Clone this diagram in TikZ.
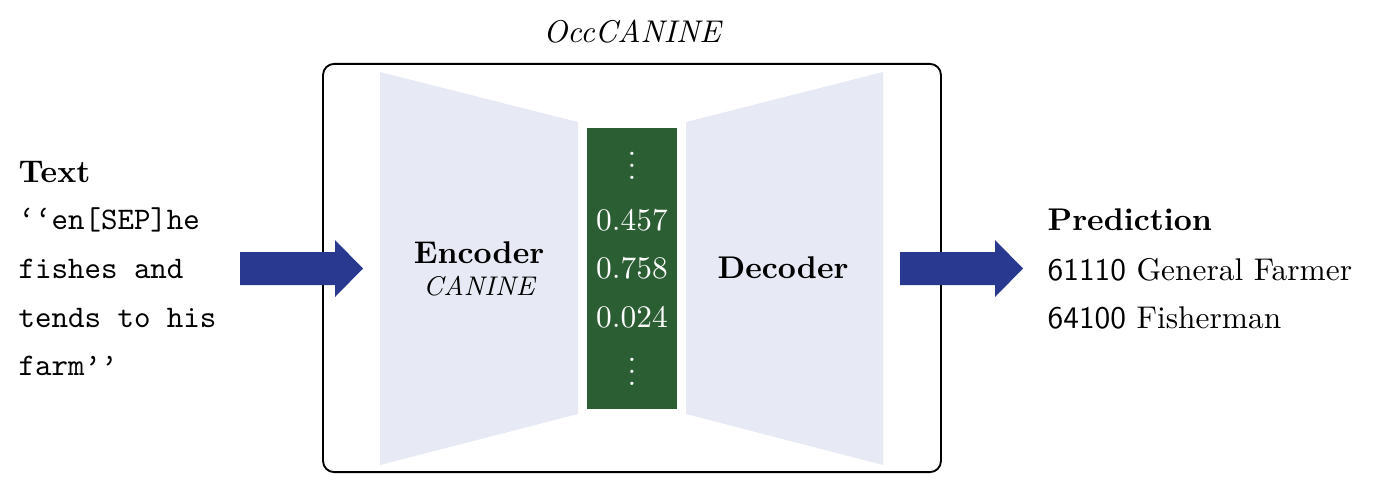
\documentclass[tikz,border=0pt]{standalone}
\usepackage{fontspec}
\definecolor{lav}{RGB}{231,234,244}
\definecolor{dgreen}{RGB}{44,94,52}
\definecolor{dblue}{RGB}{41,57,143}
\newcommand\myvdots{\vbox{\baselineskip3.8pt\lineskiplimit0pt\hbox{.}\hbox{.}\hbox{.}}}
\tikzset{
  txt/.style={anchor=base west, inner sep=0pt},
  ctxt/.style={anchor=base, inner sep=0pt},
  num/.style={anchor=base, inner sep=0pt, text=white},
  blockarrow/.style={fill=dblue},
  halfnet/.style={fill=lav}
}
\begin{document}
\begin{tikzpicture}[x=0.3185pt,y=-0.3185pt]
\useasboundingbox (0,0) rectangle (1373,483);
% title and frame
\node[ctxt, font=\itshape] (title) at (632,42) {OccCANINE};
\node[draw, line width=0.6pt, rounded corners=3.5pt, minimum width=196.8pt, minimum height=130pt, inner sep=0pt] (box) at (632,268) {};
% encoder / decoder trapezoids
\fill[halfnet] (380,72) -- (578,122) -- (578,414) -- (380,465) -- cycle;
\fill[halfnet] (883,72) -- (686,122) -- (686,414) -- (883,465) -- cycle;
% latent vector
\node[fill=dgreen, minimum width=28.7pt, minimum height=89.5pt, inner sep=0pt] (vec) at (632,268.5) {};
\node[num] (d1) at (632,179) {\myvdots};
\node[num] (v1) at (632,230) {0.457};
\node[num] (v2) at (632,278) {0.758};
\node[num] (v3) at (632,327) {0.024};
\node[num] (d2) at (632,385) {\myvdots};
% labels
\node[ctxt, font=\bfseries] (enc) at (479,263) {Encoder};
\node[ctxt, font=\fontsize{8.6}{10}\selectfont\itshape] (canine) at (479,295) {CANINE};
\node[ctxt, font=\bfseries] (dec) at (783,278) {Decoder};
% input text
\node[txt, font=\bfseries] (t0) at (18,182) {Text};
\node[txt, font=\ttfamily] (t1) at (18,229) {‘‘en[SEP]he};
\node[txt, font=\ttfamily] (t2) at (18,278) {fishes and};
\node[txt, font=\ttfamily] (t3) at (18,327) {tends to his};
\node[txt, font=\ttfamily] (t4) at (18,375) {farm’’};
% output
\node[txt, font=\bfseries] (p0) at (1047,230) {Prediction};
\node[txt] (p1) at (1047,280) {\textsf{61110} General Farmer};
\node[txt] (p2) at (1047,328) {\textsf{64100} Fisherman};
% block arrows
\coordinate (la) at (240,268.5);
\coordinate (ra) at (900,268.5);
\fill[blockarrow] (la) ++(0,-16.5) -- ++(95,0) -- ++(0,-12) -- ++(28,28.5) -- ++(-28,28.5) -- ++(0,-12) -- ++(-95,0) -- cycle;
\fill[blockarrow] (ra) ++(0,-16.5) -- ++(95,0) -- ++(0,-12) -- ++(28,28.5) -- ++(-28,28.5) -- ++(0,-12) -- ++(-95,0) -- cycle;
\end{tikzpicture}
\end{document}
